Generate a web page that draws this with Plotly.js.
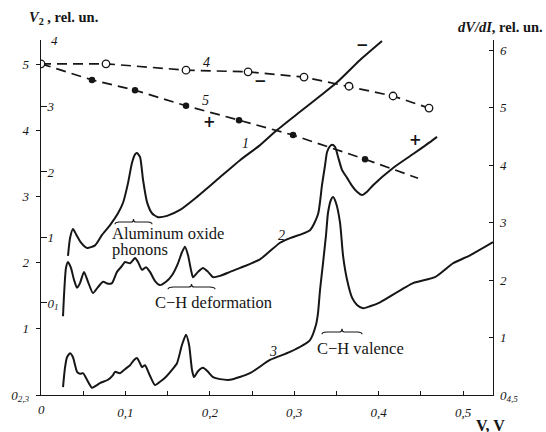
<!DOCTYPE html>
<html>
<head>
<meta charset="utf-8">
<script src="https://cdn.plot.ly/plotly-3.0.1.min.js"></script>
<style>
html,body{margin:0;padding:0;background:#fff;}
#chart{width:546px;height:432px;}
</style>
</head>
<body>
<div id="chart"></div>
<script>
// ---- Data ----
// Curve 1 (inner left scale, zero "0_1")
const curve1V = [0.0320,0.0344,0.0379,0.0415,0.0474,0.0545,0.0640,0.0723,0.0818,0.0912,0.0972,0.1031,0.1078,0.1114,0.1137,0.1173,0.1209,0.1256,0.1315,0.1386,0.1493,0.1647,0.1848,0.2085,0.2358,0.2595,0.2796,0.3069,0.3306,0.3507,0.3780,0.4040];
const curve1Y = [0.72,0.99,1.13,1.05,0.92,0.84,0.88,1.04,1.19,1.37,1.53,1.83,2.14,2.27,2.29,2.23,1.88,1.54,1.37,1.31,1.33,1.42,1.62,1.88,2.18,2.41,2.64,2.92,3.16,3.37,3.71,4.00];

// Curve 2 (outer left scale, zero "0_2,3")
const curve2V = [0.0261,0.0273,0.0296,0.0320,0.0355,0.0391,0.0427,0.0462,0.0509,0.0557,0.0616,0.0675,0.0735,0.0794,0.0841,0.0900,0.0960,0.0995,0.1055,0.1114,0.1149,0.1197,0.1244,0.1291,0.1351,0.1410,0.1481,0.1552,0.1623,0.1671,0.1706,0.1742,0.1777,0.1801,0.1860,0.1919,0.1979,0.2038,0.2121,0.2239,0.2358,0.2595,0.2832,0.2950,0.3187,0.3282,0.3329,0.3365,0.3389,0.3424,0.3448,0.3483,0.3519,0.3566,0.3626,0.3685,0.3744,0.3803,0.3863,0.3934,0.4171,0.4408,0.4609,0.4692];
const curve2Y = [1.19,1.51,1.92,2.01,1.92,1.74,1.62,1.69,1.86,1.71,1.54,1.63,1.71,1.68,1.69,1.86,1.95,2.01,1.99,2.07,2.01,1.89,1.93,1.86,1.72,1.66,1.71,1.81,1.99,2.16,2.24,2.11,1.89,1.78,1.86,1.92,1.86,1.78,1.80,1.86,1.92,2.05,2.30,2.37,2.49,2.73,3.17,3.47,3.67,3.76,3.78,3.75,3.60,3.40,3.28,3.16,3.07,3.02,3.07,3.17,3.43,3.64,3.82,3.90];

// Curve 3 (outer left scale, zero "0_2,3")
const curve3V = [0.0261,0.0284,0.0308,0.0344,0.0379,0.0427,0.0462,0.0498,0.0545,0.0604,0.0652,0.0699,0.0794,0.0853,0.0877,0.0936,0.0995,0.1055,0.1102,0.1137,0.1173,0.1197,0.1232,0.1291,0.1351,0.1410,0.1469,0.1552,0.1611,0.1671,0.1718,0.1754,0.1789,0.1813,0.1860,0.1919,0.1979,0.2038,0.2121,0.2239,0.2476,0.2713,0.2950,0.3187,0.3258,0.3282,0.3306,0.3341,0.3377,0.3400,0.3436,0.3460,0.3495,0.3543,0.3578,0.3626,0.3685,0.3744,0.3815,0.3898,0.4017,0.4408,0.4668,0.4882,0.5083,0.5355];
const curve3Y = [0.12,0.41,0.57,0.63,0.57,0.35,0.32,0.33,0.23,0.11,0.14,0.18,0.23,0.30,0.35,0.33,0.39,0.45,0.53,0.56,0.48,0.42,0.45,0.29,0.15,0.20,0.26,0.38,0.48,0.76,0.91,0.76,0.38,0.27,0.36,0.41,0.35,0.27,0.24,0.23,0.33,0.53,0.65,0.83,1.06,1.24,1.59,1.99,2.42,2.75,2.95,2.99,2.90,2.60,2.11,1.74,1.47,1.36,1.31,1.34,1.40,1.69,1.78,1.99,2.11,2.31];

// Curve 4 (right scale dV/dI, open circles)
const curve4V = [0, 0.0770, 0.1718, 0.2453, 0.3116, 0.3649, 0.4171, 0.4597];
const curve4Y = [5.76, 5.76, 5.65, 5.62, 5.53, 5.37, 5.20, 4.99];

// Curve 5 (right scale dV/dI, filled dots), then the unmarked dashed tail
const curve5V = [0, 0.0604, 0.1114, 0.1718, 0.2346, 0.2986, 0.3839];
const curve5Y = [5.76, 5.48, 5.30, 5.03, 4.78, 4.52, 4.10];
const curve5TailV = [0.3839, 0.4467];
const curve5TailY = [4.10, 3.77];

// Tick labels
const xTickVals = [0.1, 0.2, 0.3, 0.4, 0.5];
const xTickText = ['0,1', '0,2', '0,3', '0,4', '0,5'];
const xZeroText = '0';
const leftOuterVals = [0, 1, 2, 3, 4, 5];
const leftOuterText = ['0<sub>2,3</sub>', '1', '2', '3', '4', '5'];
const leftInnerVals = [0, 1, 2, 3];
const leftInnerText = ['0<sub>1</sub>', '1', '2', '3'];
const leftInnerTop = 4;
const rightVals = [0, 1, 2, 3, 4, 5, 6];
const rightText = ['0<sub>4,5</sub>', '1', '2', '3', '4', '5', '6'];

// ---- Chart ----
const ink = '#161616';
const tickFont = {family: 'Liberation Serif, DejaVu Serif, serif', size: 13, style: 'italic', color: ink};
const solid = {color: ink, width: 2, shape: 'spline', smoothing: 0.6};
const dashed = {color: ink, width: 1.7, dash: '10px,6px'};

const traces = [
  {x: curve1V, y: curve1Y, yaxis: 'y2', mode: 'lines', line: solid, hoverinfo: 'skip'},
  {x: curve2V, y: curve2Y, yaxis: 'y', mode: 'lines', line: solid, hoverinfo: 'skip'},
  {x: curve3V, y: curve3Y, yaxis: 'y', mode: 'lines', line: solid, hoverinfo: 'skip'},
  {x: curve5TailV, y: curve5TailY, yaxis: 'y3', mode: 'lines', line: dashed, hoverinfo: 'skip'},
  {x: curve5V, y: curve5Y, yaxis: 'y3', mode: 'lines+markers', line: dashed,
   marker: {color: ink, size: 6.5, line: {width: 0}}, hoverinfo: 'skip'},
  {x: curve4V, y: curve4Y, yaxis: 'y3', mode: 'lines+markers', line: dashed,
   marker: {color: '#fff', size: 7.5, line: {color: ink, width: 1.3}}, hoverinfo: 'skip'}
];

const serif = 'Liberation Serif, Times New Roman, serif';
function lbl(x, y, text, opts) {
  return Object.assign({x: x, y: y, xref: 'x', yref: 'y', text: text, showarrow: false,
    font: {family: serif, size: 16.5, color: ink}, xanchor: 'left', yanchor: 'middle'}, opts || {});
}
function curveNum(x, y, t) {
  return lbl(x, y, t, {xanchor: 'center', font: {family: serif, size: 14, style: 'italic', color: ink}});
}
function sign(x, y, t) {
  return lbl(x, y, t, {xanchor: 'center', font: {family: 'DejaVu Sans, sans-serif', size: 15, weight: 'bold', color: ink}});
}

const annotations = [
  lbl(0.0818, 2.447, 'Aluminum oxide'),
  lbl(0.0818, 2.205, 'phonons'),
  lbl(0.1327, 1.390, 'C\u2212H deformation'),
  lbl(0.3246, 0.710, 'C\u2212H valence'),
  curveNum(0.1955, 5.03, '4'),
  curveNum(0.1943, 4.456, '5'),
  curveNum(0.2417, 3.807, '1'),
  curveNum(0.2855, 2.417, '2'),
  curveNum(0.2749, 0.650, '3'),
  sign(0.3803, 5.287, '\u2212'),
  sign(0.2595, 4.743, '\u2212'),
  sign(0.2002, 4.124, '+'),
  sign(0.4431, 3.852, '+'),
  // x-axis "0" label and top label of the inner left scale
  {xref: 'x', yref: 'paper', x: 0, y: -0.042, xanchor: 'center', yanchor: 'middle', showarrow: false,
   text: xZeroText, font: tickFont},
  {xref: 'paper', yref: 'y2', x: 0.018, y: leftInnerTop, xanchor: 'left', yanchor: 'middle', showarrow: false,
   text: String(leftInnerTop), font: tickFont},
  {xref: 'paper', yref: 'paper', x: -0.03, y: 1.062, xanchor: 'left', yanchor: 'middle', showarrow: false,
   text: '<i>V</i><sub>2</sub> , rel. un.', font: {family: serif, size: 14.5, weight: 'bold', color: ink}},
  {xref: 'paper', yref: 'paper', x: 1.115, y: 1.037, xanchor: 'right', yanchor: 'middle', showarrow: false,
   text: '<i>dV/dI</i>, rel. un.', font: {family: serif, size: 14.5, weight: 'bold', color: ink}},
  {xref: 'paper', yref: 'paper', x: 1.03, y: -0.086, xanchor: 'right', yanchor: 'middle', showarrow: false,
   text: 'V, V', font: {family: serif, size: 16, weight: 'bold', color: ink}}
];

function brace(x0, x1, yt, yb, yn) {
  const xm = (x0 + x1) / 2, h = (x1 - x0) * 0.12, n = (x1 - x0) * 0.06;
  return {type: 'path', xref: 'x', yref: 'y',
    path: 'M' + x0 + ',' + yb + ' Q' + x0 + ',' + yt + ' ' + (x0 + h) + ',' + yt +
          ' L' + (xm - n) + ',' + yt + ' Q' + xm + ',' + yt + ' ' + xm + ',' + yn +
          ' Q' + xm + ',' + yt + ' ' + (xm + n) + ',' + yt +
          ' L' + (x1 - h) + ',' + yt + ' Q' + x1 + ',' + yt + ' ' + x1 + ',' + yb,
    line: {color: ink, width: 1.1}};
}
const shapes = [
  brace(0.0877, 0.1315, 2.613, 2.578, 2.66),
  brace(0.1505, 0.2062, 1.631, 1.596, 1.678),
  brace(0.3329, 0.3803, 0.952, 0.917, 0.999)
];

const layout = {
  width: 546, height: 432,
  margin: {l: 41, r: 53, t: 40, b: 37, pad: 0},
  paper_bgcolor: '#fff', plot_bgcolor: '#fff',
  showlegend: false,
  xaxis: {range: [0, 0.5355], showgrid: false, zeroline: false, showline: true, linecolor: ink, linewidth: 1.3,
          tickvals: xTickVals, ticktext: xTickText, ticks: 'inside', ticklen: 4, tickcolor: ink,
          minor: {tickvals: [0.05, 0.15, 0.25, 0.35, 0.45], ticks: 'inside', ticklen: 4, tickcolor: ink},
          tickfont: tickFont, ticklabelstandoff: 5},
  yaxis: {range: [0, 5.363], showgrid: false, zeroline: false, showline: true, linecolor: ink, linewidth: 1.3,
          tickvals: leftOuterVals, ticktext: leftOuterText, ticks: 'outside', ticklen: 4, tickcolor: ink,
          tickfont: tickFont, ticklabelstandoff: 4},
  yaxis2: {range: [-1.405, 4.015], overlaying: 'y', side: 'left', anchor: 'x', showgrid: false, zeroline: false,
           showline: false, tickvals: leftInnerVals, ticktext: leftInnerText, ticks: 'inside', ticklen: 6,
           tickcolor: ink, ticklabelposition: 'inside', tickfont: tickFont,
           minor: {tickvals: [leftInnerTop], ticks: 'inside', ticklen: 6, tickcolor: ink}},
  yaxis3: {range: [0, 6.174], overlaying: 'y', side: 'right', anchor: 'x', showgrid: false, zeroline: false,
           showline: true, linecolor: ink, linewidth: 1.3, tickvals: rightVals, ticktext: rightText,
           ticks: 'inside', ticklen: 4, tickcolor: ink, tickfont: tickFont, ticklabelstandoff: 3},
  annotations: annotations,
  shapes: shapes
};

Plotly.newPlot('chart', traces, layout, {staticPlot: true, displayModeBar: false});
</script>
</body>
</html>
